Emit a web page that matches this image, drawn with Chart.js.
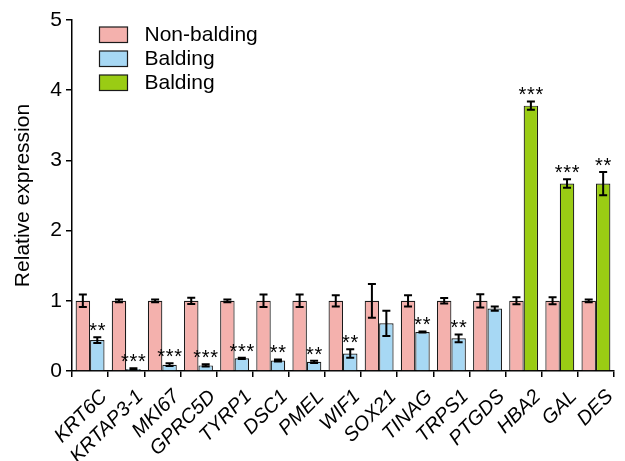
<!DOCTYPE html>
<html>
<head>
<meta charset="utf-8">
<script src="https://cdn.jsdelivr.net/npm/chart.js@4/dist/chart.umd.min.js"></script>
<style>
  html, body { margin: 0; padding: 0; background: #ffffff; }
  #wrap { width: 625px; height: 461px; }
</style>
</head>
<body>
<div id="wrap"><canvas id="chart" width="625" height="461"></canvas></div>
<script>
// Gene panel (x categories)
const genes = ['KRT6C', 'KRTAP3-1', 'MKI67', 'GPRC5D', 'TYRP1', 'DSC1', 'PMEL',
               'WIF1', 'SOX21', 'TINAG', 'TRPS1', 'PTGDS', 'HBA2', 'GAL', 'DES'];

// Non-balding scalp (reference level)
const nonBalding    = [1, 1, 1, 1, 1, 1, 1, 1, 1, 1, 1, 1, 1, 1, 1];
const nonBaldingErr = [0.09, 0.02, 0.02, 0.045, 0.02, 0.09, 0.09, 0.08, 0.24, 0.08, 0.04, 0.095, 0.05, 0.05, 0.02];

// Balding scalp, down-regulated / unchanged genes
const baldingDown    = [0.44, 0.03, 0.09, 0.08, 0.18, 0.15, 0.13, 0.25, 0.68, 0.555, 0.465, 0.89, null, null, null];
const baldingDownErr = [0.04, 0.01, 0.02, 0.015, 0.01, 0.015, 0.015, 0.06, 0.18, 0.008, 0.055, 0.03, 0, 0, 0];

// Balding scalp, up-regulated genes
const baldingUp    = [null, null, null, null, null, null, null, null, null, null, null, null, 3.78, 2.67, 2.67];
const baldingUpErr = [0, 0, 0, 0, 0, 0, 0, 0, 0, 0, 0, 0, 0.06, 0.06, 0.165];

// Significance marks (balding vs non-balding)
const significance = ['**', '***', '***', '***', '***', '**', '**', '**', '', '**', '**', '', '***', '***', '**'];

// Y axis ticks
const yTicks = [0, 1, 2, 3, 4, 5];

const FONT = "'Liberation Sans', Arial, Helvetica, sans-serif";
const FONT_SIZE = 21;

const datasets = [
  { label: 'Non-balding', data: nonBalding, errors: nonBaldingErr, marks: null,
    backgroundColor: '#F4B1AD' },
  { label: 'Balding', data: baldingDown, errors: baldingDownErr, marks: significance,
    backgroundColor: '#A7D8F4' },
  { label: 'Balding', data: baldingUp, errors: baldingUpErr, marks: significance,
    backgroundColor: '#9ACC14' }
].map(d => Object.assign(d, {
  borderColor: '#1a1a1a',
  borderWidth: 1.2,
  skipNull: true,
  categoryPercentage: 0.8,
  barPercentage: 1.0
}));

// Error bars (mean ± SEM) and significance stars above each bar
const errorBars = {
  id: 'errorBars',
  afterDatasetsDraw(chart) {
    const ctx = chart.ctx;
    const yScale = chart.scales.y;
    ctx.save();
    ctx.strokeStyle = '#000';
    ctx.lineWidth = 2;
    chart.data.datasets.forEach((ds, di) => {
      const meta = chart.getDatasetMeta(di);
      ds.data.forEach((v, i) => {
        if (v == null) return;
        const bar = meta.data[i];
        const e = ds.errors[i] || 0;
        const x = bar.x;
        const yTop = yScale.getPixelForValue(v + e);
        const yBot = yScale.getPixelForValue(v - e);
        ctx.beginPath();
        ctx.moveTo(x, yTop); ctx.lineTo(x, yBot);
        ctx.moveTo(x - 4, yTop); ctx.lineTo(x + 4, yTop);
        ctx.moveTo(x - 4, yBot); ctx.lineTo(x + 4, yBot);
        ctx.stroke();
        const mark = ds.marks ? ds.marks[i] : '';
        if (mark) {
          ctx.fillStyle = '#000';
          ctx.font = '20px ' + FONT;
          ctx.textAlign = 'center';
          ctx.textBaseline = 'alphabetic';
          const n = mark.length, step = 8.5;
          for (let k = 0; k < n; k++) {
            ctx.fillText('*', x + (k - (n - 1) / 2) * step, yTop);
          }
        }
      });
    });
    ctx.restore();
  }
};

// Legend drawn in the upper-left of the plot area
const insetLegend = {
  id: 'insetLegend',
  afterDraw(chart) {
    const ctx = chart.ctx;
    const area = chart.chartArea;
    const x0 = area.left + 27.5, y0 = area.top + 7, rowH = 24;
    ctx.save();
    ctx.font = FONT_SIZE + 'px ' + FONT;
    ctx.textAlign = 'left';
    ctx.textBaseline = 'middle';
    chart.data.datasets.forEach((ds, i) => {
      const y = y0 + i * rowH;
      ctx.fillStyle = ds.backgroundColor;
      ctx.fillRect(x0, y, 28, 15.5);
      ctx.strokeStyle = '#1a1a1a';
      ctx.lineWidth = 1.2;
      ctx.strokeRect(x0, y, 28, 15.5);
      ctx.fillStyle = '#000';
      ctx.fillText(ds.label, x0 + 45, y + 8.5);
    });
    ctx.restore();
  }
};

new Chart(document.getElementById('chart'), {
  type: 'bar',
  data: { labels: genes, datasets },
  options: {
    responsive: false,
    devicePixelRatio: 1,
    animation: false,
    layout: { padding: { left: 0, top: 20, right: 11, bottom: 0 } },
    plugins: {
      legend: { display: false },
      tooltip: { enabled: false }
    },
    scales: {
      x: {
        offset: true,
        grid: { display: true, offset: true, drawOnChartArea: false, drawTicks: true,
                tickLength: 6, color: '#000', lineWidth: 1.5 },
        border: { display: true, color: '#000', width: 1.5 },
        ticks: {
          autoSkip: false, minRotation: 45, maxRotation: 45,
          labelOffset: 14, padding: 8, color: '#000',
          font: { family: FONT, size: 20, style: 'italic' }
        },
        afterFit(scale) { scale.height = 90; }
      },
      y: {
        min: 0, max: 5,
        afterBuildTicks(scale) { scale.ticks = yTicks.map(v => ({ value: v })); },
        grid: { display: true, drawOnChartArea: false, drawTicks: true,
                tickLength: 6, color: '#000', lineWidth: 1.5 },
        border: { display: true, color: '#000', width: 1.5 },
        ticks: { color: '#000', padding: 4, font: { family: FONT, size: FONT_SIZE } },
        title: { display: true, text: 'Relative expression', color: '#000',
                 font: { family: FONT, size: FONT_SIZE }, padding: { top: 11, bottom: 0 } },
        afterFit(scale) { scale.width = 72; }
      }
    }
  },
  plugins: [errorBars, insetLegend]
});
</script>
</body>
</html>
